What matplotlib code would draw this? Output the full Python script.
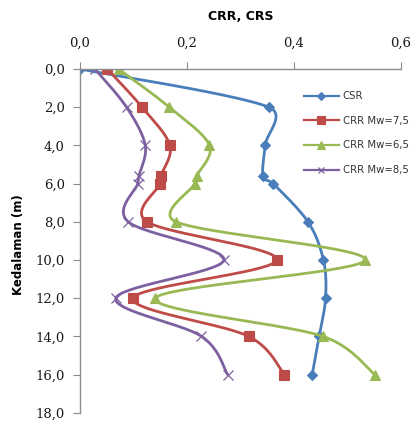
import numpy as np
import matplotlib
matplotlib.use("Agg")
import matplotlib.pyplot as plt
from matplotlib.lines import Line2D

depth = [0.0, 2.0, 4.0, 5.6, 6.0, 8.0, 10.0, 12.0, 14.0, 16.0]
csr = [0.000, 0.353, 0.346, 0.342, 0.361, 0.426, 0.455, 0.459, 0.447, 0.434]
crr75 = [0.051, 0.116, 0.168, 0.151, 0.150, 0.125, 0.368, 0.099, 0.315, 0.382]
crr65 = [0.072, 0.167, 0.242, 0.218, 0.215, 0.179, 0.533, 0.141, 0.454, 0.551]
crr85 = [0.028, 0.087, 0.122, 0.110, 0.108, 0.090, 0.269, 0.067, 0.227, 0.276]

series_names = ["CSR", "CRR Mw=7,5", "CRR Mw=6,5", "CRR Mw=8,5"]
x_ticks = [0.0, 0.2, 0.4, 0.6]
y_ticks = [0, 2, 4, 6, 8, 10, 12, 14, 16, 18]


def smooth(ax, xs, ys, n=40):
    # Excel-style smoothed line (Bezier, control offsets capped) in display space
    trans = ax.transData
    P = trans.transform(np.column_stack([xs, ys]))
    m = len(P)
    out = [P[0]]
    t = np.linspace(0, 1, n)[1:][:, None]
    for i in range(m - 1):
        p0 = P[i - 1] if i > 0 else P[i]
        p1 = P[i]
        p2 = P[i + 1]
        p3 = P[i + 2] if i + 2 < m else P[i + 1]
        d12 = np.hypot(*(p2 - p1))
        d02 = np.hypot(*(p2 - p0))
        d13 = np.hypot(*(p3 - p1))
        f1 = 1 / 6 if d02 == 0 or d02 / 6 < d12 / 2 else d12 / (2 * d02)
        f2 = 1 / 6 if d13 == 0 or d13 / 6 < d12 / 2 else d12 / (2 * d13)
        c1 = p1 + f1 * (p2 - p0)
        c2 = p2 - f2 * (p3 - p1)
        seg = ((1 - t) ** 3) * p1 + 3 * ((1 - t) ** 2) * t * c1 + 3 * (1 - t) * t ** 2 * c2 + t ** 3 * p2
        out.extend(seg)
    out = trans.inverted().transform(np.array(out))
    return out[:, 0], out[:, 1]


fig = plt.figure(figsize=(4.13, 4.21), dpi=100)
ax = fig.add_axes([80 / 413, 8.3 / 421, 321 / 413, 343.7 / 421])
ax.set_xlim(0, 0.6)
ax.set_ylim(18, 0)

styles = [
    dict(color="#4A7EBB", marker="D", ms=5.5, mew=0.8),
    dict(color="#BE4B48", marker="s", ms=7.5, mew=0.8),
    dict(color="#98B954", marker="^", ms=7.5, mew=0.8),
    dict(color="#7D60A0", marker="x", ms=7, mew=0.9),
]
data = [csr, crr75, crr65, crr85]
handles = []
for vals, st, name in zip(data, styles, series_names):
    sx, sy = smooth(ax, vals, depth)
    ax.plot(sx, sy, color=st["color"], lw=2.0, solid_capstyle="round")
    ax.plot(vals, depth, linestyle="none", marker=st["marker"], ms=st["ms"],
            color=st["color"], mec=st["color"], mew=st["mew"])
    handles.append(Line2D([], [], color=st["color"], lw=1.6, marker=st["marker"],
                          ms=st["ms"] * 0.7, mec=st["color"], mew=st["mew"]))

ax.xaxis.tick_top()
ax.set_xticks(x_ticks)
ax.set_xticklabels([f"{v:.1f}".replace(".", ",") for v in x_ticks])
ax.set_yticks(y_ticks)
ax.set_yticklabels([f"{v:.1f}".replace(".", ",") for v in y_ticks])

for s in ["right", "bottom"]:
    ax.spines[s].set_visible(False)
for s in ["left", "top"]:
    ax.spines[s].set_color("#8C8C8C")
    ax.spines[s].set_linewidth(1.0)

ax.tick_params(axis="x", which="both", top=True, bottom=False, direction="out",
               length=5, color="#8C8C8C", pad=9, labelsize=9.5)
ax.tick_params(axis="y", direction="out", length=5, color="#8C8C8C", pad=6,
               labelsize=9.5)
for lab in ax.get_xticklabels() + ax.get_yticklabels():
    lab.set_fontfamily("DejaVu Serif")
    lab.set_color("#1A1A1A")

fig.text(240.5 / 413, 1 - 16 / 421, "CRR, CRS", ha="center", va="center",
         fontsize=9, fontweight="bold", family="DejaVu Sans")
fig.text(19 / 413, 1 - 245 / 421, "Kedalaman (m)", ha="center", va="center",
         rotation=90, fontsize=8.5, fontweight="bold", family="DejaVu Sans")

leg = ax.legend(handles, series_names, loc="upper left",
                bbox_to_anchor=(220 / 321, (343.7 - 18) / 343.7),
                frameon=False, fontsize=7.3, handlelength=3.4, handletextpad=0.4,
                labelspacing=1.45, borderaxespad=0)
for t in leg.get_texts():
    t.set_color("#333333")

fig.savefig("out.png", dpi=100)
